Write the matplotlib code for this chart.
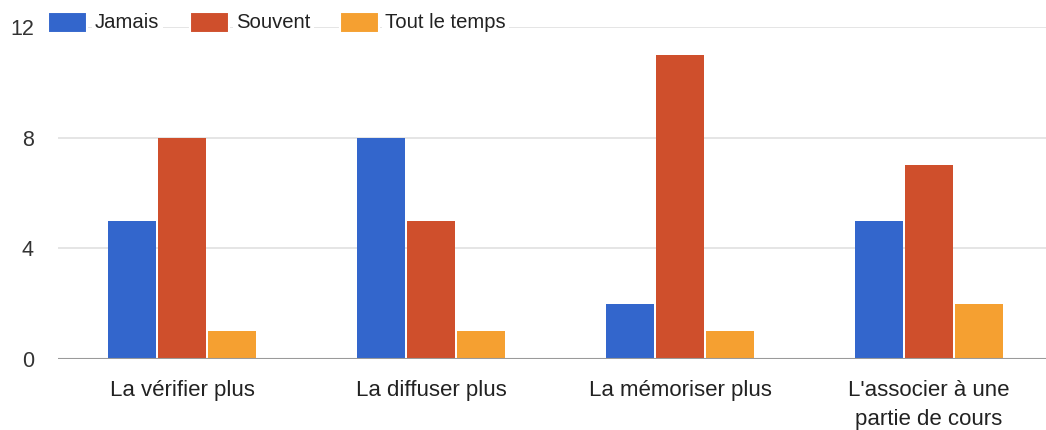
import matplotlib
matplotlib.use("Agg")
import matplotlib.pyplot as plt
from matplotlib.patches import Rectangle
import numpy as np

categories = ["La vérifier plus", "La diffuser plus", "La mémoriser plus", "L'associer à une\npartie de cours"]
series_names = ["Jamais", "Souvent", "Tout le temps"]
jamais = [5, 8, 2, 5]
souvent = [8, 5, 11, 7]
tout_le_temps = [1, 1, 1, 2]
yticks = [0, 4, 8, 12]

colors = ["#3366cc", "#cf4f2c", "#f5a031"]
plt.rcParams['font.family'] = ['Liberation Sans', 'DejaVu Sans']

W, H = 1046, 430
fig = plt.figure(figsize=(W/100, H/100), dpi=100)
ax = fig.add_axes([57.5/W, (H-359)/H, 1-57.5/W, (359-27)/H])

x = np.arange(len(categories))
bw = 0.2
for i, (vals, c) in enumerate(zip([jamais, souvent, tout_le_temps], colors)):
    ax.bar(x + (i-1)*bw, vals, width=bw-0.008, color=c, zorder=3, linewidth=0)

ax.set_xlim(-0.5, 3.47)
ax.set_ylim(0, 12)
ax.set_yticks(yticks)
ax.set_yticklabels([str(v) for v in yticks])
ax.grid(axis='y', color='#e3e3e3', linewidth=1.3, zorder=0)
ax.axhline(0, color='#9a9a9a', linewidth=1.5, zorder=4)
for s in ax.spines.values():
    s.set_visible(False)
ax.tick_params(axis='y', length=0, pad=17, labelsize=15.5, labelcolor='#333333')
ax.tick_params(axis='x', length=0, pad=15, labelsize=16, labelcolor='#222222')
ax.set_xticks(x)
ax.set_xticklabels(categories, linespacing=1.5)
for lab in ax.get_yticklabels():
    lab.set_horizontalalignment('right')

# legend (drawn in pixel coords)
leg_items = [(48, 95, "Jamais"), (190, 236, "Souvent"), (340, 385, "Tout le temps")]
for (bx, tx, name), c in zip(leg_items, colors):
    fig.add_artist(Rectangle((bx/W, (H-33)/H), 39/W, 21/H, transform=fig.transFigure,
                             facecolor=c, edgecolor='white', linewidth=1.5, zorder=5))
    fig.text(tx/W, (H-23)/H, name, fontsize=14.6, color='#222222', va='center', ha='left',
             zorder=6, bbox=dict(facecolor='white', edgecolor='none', pad=2.5))

fig.savefig("out.png", dpi=100, facecolor='white')
